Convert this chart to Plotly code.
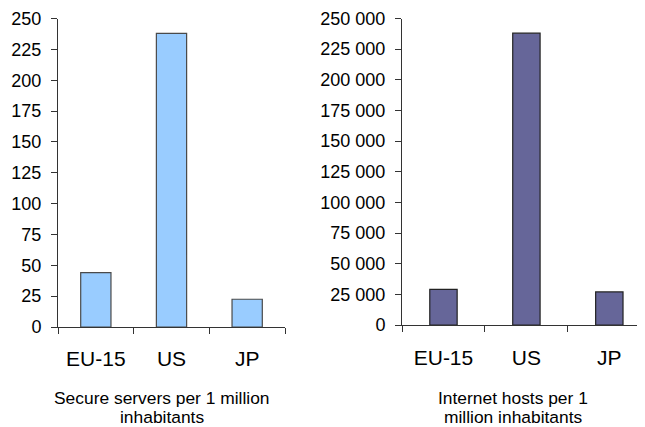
import plotly.graph_objects as go

categories = ["EU-15", "US", "JP"]
secure_servers = [44, 238, 22.5]
internet_hosts = [29000, 238000, 27000]
left_title = ["Secure servers per 1 million", "inhabitants"]
right_title = ["Internet hosts per 1", "million inhabitants"]

# the page body adds an 8px offset; figure sized so it fits the 645x427 window
OFF = 8
W, H = 645 - OFF, 427 - OFF
FONT = "Liberation Sans, Arial, sans-serif"


def px_x(p):
    return (p - OFF) / W


def px_y(p):
    return 1 - (p - OFF) / H


fig = go.Figure()
fig.add_trace(go.Bar(x=categories, y=secure_servers, width=0.4,
                     marker=dict(color="#99CCFF", line=dict(color="#4a4a4a", width=1.2)),
                     xaxis="x", yaxis="y", showlegend=False))
fig.add_trace(go.Bar(x=categories, y=internet_hosts, width=0.33,
                     marker=dict(color="#666699", line=dict(color="#222222", width=1.2)),
                     xaxis="x2", yaxis="y2", showlegend=False))

ax_common = dict(showgrid=False, zeroline=False, showline=True, linecolor="#333333", automargin=False,
                 linewidth=1, tickcolor="#333333", ticklabeloverflow="allow",
                 tickfont=dict(family=FONT, size=21, color="black"))
y_common = dict(showgrid=False, zeroline=False, showline=True, linecolor="#333333", automargin=False,
                linewidth=1, ticks="outside", ticklen=6, tickcolor="#333333", ticklabeloverflow="allow",
                tickfont=dict(family=FONT, size=18, color="black"))

lx = [px_x(58), px_x(285)]
rx = [px_x(402), 1.0]
rx_range = [-0.5, 2.43]

fig.update_layout(
    width=W, height=H, autosize=False,
    margin=dict(l=0, r=0, t=0, b=0),
    paper_bgcolor="white", plot_bgcolor="white",
    separators=". ",
    xaxis=dict(domain=lx, anchor="y", type="category", range=[-0.5, 2.5],
               ticks="outside", ticklen=6, tickson="boundaries", ticklabelstandoff=13, **ax_common),
    yaxis=dict(domain=[px_y(327), px_y(18.5)], anchor="x", range=[0, 250], dtick=25,
               ticklabelstandoff=6, **y_common),
    xaxis2=dict(domain=rx, anchor="y2", type="category", range=rx_range,
                ticks="outside", ticklen=6, tickson="boundaries", ticklabelstandoff=14, **ax_common),
    yaxis2=dict(domain=[px_y(325), px_y(18.5)], anchor="x2", range=[0, 250000], dtick=25000,
                tickformat=",d", ticklabelstandoff=6, **y_common),
    # overlay axes to draw the upward half of the crossing category ticks
    xaxis3=dict(domain=lx, anchor="y", overlaying="x", range=[-0.5, 2.5], tickvals=[0.5, 1.5, 2.5],
                ticks="inside", ticklen=6, tickcolor="#333333", showticklabels=False, automargin=False,
                showgrid=False, zeroline=False, showline=False),
    xaxis4=dict(domain=rx, anchor="y2", overlaying="x2", range=rx_range, tickvals=[0.5, 1.5, 2.5],
                ticks="inside", ticklen=6, tickcolor="#333333", showticklabels=False, automargin=False,
                showgrid=False, zeroline=False, showline=False),
)

for i, t in enumerate(left_title):
    fig.add_annotation(text=t, x=px_x(162), y=px_y(398 + 19 * i), xref="paper", yref="paper",
                       xanchor="center", yanchor="middle", showarrow=False,
                       font=dict(family=FONT, size=17.4, color="black"))
for i, t in enumerate(right_title):
    fig.add_annotation(text=t, x=px_x(513), y=px_y(398 + 19 * i), xref="paper", yref="paper",
                       xanchor="center", yanchor="middle", showarrow=False,
                       font=dict(family=FONT, size=17.4, color="black"))

fig.write_html("out.html")
